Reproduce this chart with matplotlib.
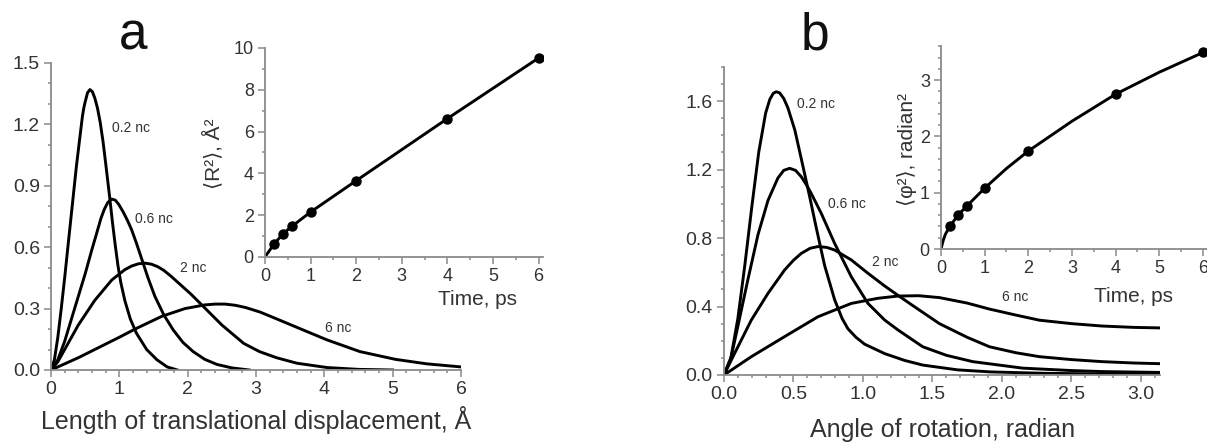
import matplotlib
matplotlib.use("Agg")
import matplotlib.pyplot as plt
from matplotlib.ticker import MultipleLocator, FormatStrFormatter

plt.rcParams['font.family'] = ['Liberation Sans', 'DejaVu Sans']

# ---------------- data: panel a (translational displacement distributions) ----------------
a_labels = ["0.2 nc", "0.6 nc", "2 nc", "6 nc"]
a_x_02 = [0, 0.05, 0.1, 0.15, 0.2, 0.25, 0.31, 0.37, 0.42, 0.46, 0.48, 0.50, 0.535, 0.57, 0.605,
          0.64, 0.68, 0.72, 0.76, 0.8, 0.86, 0.9, 0.94, 0.98, 1.02, 1.08, 1.16, 1.25, 1.4, 1.55,
          1.7, 1.85]
a_y_02 = [0, 0.05, 0.16, 0.3, 0.45, 0.61, 0.8, 0.99, 1.13, 1.24, 1.28, 1.31, 1.355, 1.37, 1.36,
          1.33, 1.28, 1.21, 1.12, 1.01, 0.84, 0.72, 0.61, 0.51, 0.43, 0.34, 0.25, 0.18, 0.1, 0.05,
          0.015, 0.0]
a_x_06 = [0, 0.1, 0.2, 0.3, 0.4, 0.5, 0.6, 0.67, 0.73, 0.78, 0.83, 0.888, 0.94, 0.99, 1.06, 1.12,
          1.18, 1.25, 1.33, 1.42, 1.52, 1.65, 1.79, 1.93, 2.08, 2.25, 2.43, 2.65, 2.9]
a_y_06 = [0, 0.05, 0.14, 0.25, 0.36, 0.47, 0.59, 0.67, 0.74, 0.785, 0.818, 0.835, 0.83, 0.81,
          0.77, 0.73, 0.685, 0.62, 0.54, 0.45, 0.36, 0.27, 0.195, 0.135, 0.09, 0.052, 0.027, 0.01,
          0.0]
a_x_2 = [0, 0.1, 0.2, 0.4, 0.64, 0.89, 1.08, 1.18, 1.28, 1.376, 1.47, 1.56, 1.65, 1.75, 1.85,
         2.05, 2.23, 2.5, 2.82, 3.05, 3.3, 3.6, 4.04, 4.5, 5.0]
a_y_2 = [0, 0.04, 0.1, 0.22, 0.34, 0.44, 0.49, 0.508, 0.519, 0.522, 0.517, 0.505, 0.487, 0.46,
         0.43, 0.37, 0.31, 0.22, 0.13, 0.09, 0.06, 0.033, 0.012, 0.003, 0.0]
a_x_6 = [0, 0.2, 0.4, 0.64, 1.0, 1.23, 1.62, 1.96, 2.25, 2.4, 2.55, 2.7, 2.85, 3.06, 3.3, 3.55,
         4.04, 4.52, 5.04, 5.5, 6.0]
a_y_6 = [0, 0.03, 0.06, 0.1, 0.16, 0.2, 0.262, 0.30, 0.318, 0.322, 0.322, 0.316, 0.305, 0.283,
         0.25, 0.215, 0.147, 0.09, 0.052, 0.03, 0.015]
a_label_pos = [(0.89, 1.18), (1.23, 0.74), (1.89, 0.50), (4.01, 0.205)]

# inset a: mean square displacement vs time
ia_t = [0.2, 0.4, 0.6, 1, 2, 4, 6]
ia_r2 = [0.62, 1.12, 1.48, 2.15, 3.65, 6.62, 9.52]

# ---------------- data: panel b (rotation angle distributions) ----------------
b_labels = ["0.2 nc", "0.6 nc", "2 nc", "6 nc"]
b_x_02 = [0, 0.05, 0.1, 0.15, 0.2, 0.25, 0.3, 0.33, 0.355, 0.376, 0.40, 0.43, 0.46, 0.51, 0.568,
          0.617, 0.664, 0.724, 0.796, 0.85, 0.892, 0.95, 1.012, 1.156, 1.3, 1.43, 1.68, 1.92, 2.3,
          2.7, 3.14]
b_y_02 = [0, 0.1, 0.33, 0.64, 0.98, 1.3, 1.53, 1.61, 1.645, 1.654, 1.648, 1.615, 1.56, 1.43,
          1.22, 1.04, 0.86, 0.64, 0.44, 0.33, 0.27, 0.22, 0.18, 0.125, 0.085, 0.058, 0.03, 0.018,
          0.01, 0.006, 0.005]
b_x_06 = [0, 0.05, 0.089, 0.173, 0.245, 0.317, 0.388, 0.43, 0.473, 0.515, 0.556, 0.59, 0.628,
          0.7, 0.796, 0.916, 1.036, 1.156, 1.252, 1.43, 1.6, 1.79, 2.15, 2.5, 2.72, 3.14]
b_y_06 = [0, 0.1, 0.243, 0.56, 0.82, 1.02, 1.15, 1.195, 1.207, 1.195, 1.158, 1.115, 1.06, 0.944,
          0.769, 0.574, 0.418, 0.321, 0.263, 0.165, 0.115, 0.078, 0.04, 0.026, 0.02, 0.015]
b_x_2 = [0, 0.077, 0.197, 0.317, 0.436, 0.5, 0.556, 0.62, 0.676, 0.74, 0.796, 0.916, 1.036,
         1.156, 1.252, 1.35, 1.55, 1.75, 1.91, 2.1, 2.27, 2.5, 2.72, 2.95, 3.14]
b_y_2 = [0, 0.127, 0.321, 0.477, 0.613, 0.67, 0.71, 0.74, 0.75, 0.745, 0.73, 0.672, 0.594, 0.52,
         0.465, 0.41, 0.30, 0.22, 0.165, 0.13, 0.107, 0.09, 0.078, 0.07, 0.066]
b_x_6 = [0, 0.197, 0.436, 0.676, 0.916, 1.108, 1.252, 1.4, 1.55, 1.75, 1.91, 2.1, 2.27, 2.5, 2.72,
         2.95, 3.14]
b_y_6 = [0, 0.107, 0.224, 0.34, 0.418, 0.448, 0.461, 0.463, 0.452, 0.42, 0.385, 0.35, 0.32, 0.3,
         0.286, 0.278, 0.275]
b_label_pos = [(0.525, 1.58), (0.75, 1.0), (1.065, 0.66), (2.0, 0.457)]

# inset b: mean square rotation angle vs time
ib_t = [0.2, 0.4, 0.6, 1, 2, 4, 6]
ib_phi2 = [0.40, 0.61, 0.77, 1.08, 1.74, 2.75, 3.49]
# points
ib_line_t = [0, 0.05, 0.1, 0.2, 0.4, 0.6, 1.0, 1.5, 2.0, 3.0, 4.0, 5.0, 6.0]
ib_line_v = [0, 0.15, 0.26, 0.40, 0.61, 0.77, 1.08, 1.43, 1.74, 2.27, 2.75, 3.14, 3.49]

SPINE = '#8a8a8a'
TXT = '#333333'
LW = 2.1

fig = plt.figure(figsize=(12.07, 4.43), dpi=100)
axa = fig.add_axes([0.04225, 0.1648, 0.3397, 0.693])
axb = fig.add_axes([0.5998, 0.1535, 0.3616, 0.6958])
axai = fig.add_axes([0.2195, 0.4199, 0.2305, 0.4718])
axbi = fig.add_axes([0.7796, 0.4379, 0.2207, 0.4576])


def style(ax, tick_fs):
    for s in ['top', 'right']:
        ax.spines[s].set_visible(False)
    for s in ['left', 'bottom']:
        ax.spines[s].set_color(SPINE)
        ax.spines[s].set_linewidth(1.3)
    ax.tick_params(which='both', direction='out', color=SPINE, width=1.1,
                   labelcolor=TXT, labelsize=tick_fs)
    ax.tick_params(which='major', length=5, pad=3)
    ax.tick_params(which='minor', length=2.5)
    ax.patch.set_visible(False)


# ---- panel a main ----
for xs, ys in [(a_x_02, a_y_02), (a_x_06, a_y_06), (a_x_2, a_y_2), (a_x_6, a_y_6)]:
    axa.plot(xs, ys, color='black', lw=LW, solid_joinstyle='round')
for lab, (tx, ty) in zip(a_labels, a_label_pos):
    axa.text(tx, ty, lab, fontsize=10, color=TXT, ha='left', va='center')
axa.set_xlim(0, 6)
axa.set_ylim(0, 1.5)
axa.xaxis.set_major_locator(MultipleLocator(1))
axa.xaxis.set_minor_locator(MultipleLocator(0.2))
axa.yaxis.set_major_locator(MultipleLocator(0.3))
axa.yaxis.set_minor_locator(MultipleLocator(0.1))
axa.yaxis.set_major_formatter(FormatStrFormatter('%.1f'))
style(axa, 14)
axa.set_xlabel("Length of translational displacement, Å", fontsize=18, color=TXT)
axa.xaxis.set_label_coords(0.5, -0.193)
axa.xaxis.label.set_verticalalignment('baseline')

# ---- inset a ----
axai.plot([0] + ia_t, [0] + ia_r2, color='black', lw=LW)
axai.plot(ia_t, ia_r2, 'o', color='black', ms=6.5)
axai.set_xlim(0, 6.1)
axai.set_ylim(0, 10)
axai.xaxis.set_major_locator(MultipleLocator(1))
axai.xaxis.set_minor_locator(MultipleLocator(0.5))
axai.yaxis.set_major_locator(MultipleLocator(2))
axai.yaxis.set_minor_locator(MultipleLocator(1))
style(axai, 13)
axai.set_xlabel("Time, ps", fontsize=15, color=TXT)
axai.xaxis.set_label_coords(0.763, -0.23)
axai.xaxis.label.set_verticalalignment('baseline')
axai.set_ylabel("⟨R²⟩, Å²", fontsize=15, color=TXT)
axai.yaxis.set_label_coords(-0.15, 0.495)

# ---- panel b main ----
for xs, ys in [(b_x_02, b_y_02), (b_x_06, b_y_06), (b_x_2, b_y_2), (b_x_6, b_y_6)]:
    axb.plot(xs, ys, color='black', lw=LW, solid_joinstyle='round')
for lab, (tx, ty) in zip(b_labels, b_label_pos):
    axb.text(tx, ty, lab, fontsize=10, color=TXT, ha='left', va='center')
axb.set_xlim(0, 3.14)
axb.set_ylim(0, 1.8)
axb.xaxis.set_major_locator(MultipleLocator(0.5))
axb.xaxis.set_minor_locator(MultipleLocator(0.1))
axb.xaxis.set_major_formatter(FormatStrFormatter('%.1f'))
axb.yaxis.set_major_locator(MultipleLocator(0.4))
axb.yaxis.set_minor_locator(MultipleLocator(0.1))
axb.yaxis.set_major_formatter(FormatStrFormatter('%.1f'))
style(axb, 14)
axb.set_xlabel("Angle of rotation, radian", fontsize=18, color=TXT)
axb.xaxis.set_label_coords(0.5, -0.2)
axb.xaxis.label.set_verticalalignment('baseline')

# ---- inset b ----
axbi.plot(ib_line_t, ib_line_v, color='black', lw=LW)
axbi.plot(ib_t, ib_phi2, 'o', color='black', ms=6.5)
axbi.set_xlim(0, 6.1)
axbi.set_ylim(0, 3.6)
axbi.xaxis.set_major_locator(MultipleLocator(1))
axbi.xaxis.set_minor_locator(MultipleLocator(0.5))
axbi.yaxis.set_major_locator(MultipleLocator(1))
axbi.yaxis.set_minor_locator(MultipleLocator(0.2))
style(axbi, 13)
axbi.set_xlabel("Time, ps", fontsize=15, color=TXT)
axbi.xaxis.set_label_coords(0.724, -0.261)
axbi.xaxis.label.set_verticalalignment('baseline')
axbi.set_ylabel("⟨φ²⟩, radian²", fontsize=15, color=TXT)
axbi.yaxis.set_label_coords(-0.09, 0.493)

# ---- panel letters ----
fig.text(133 / 1207, 1 - 50 / 443, "a", fontsize=37, ha='center', va='baseline', color='#111111')
fig.text(815 / 1207, 1 - 50 / 443, "b", fontsize=37, ha='center', va='baseline', color='#111111')

fig.savefig("out.png", dpi=100)
